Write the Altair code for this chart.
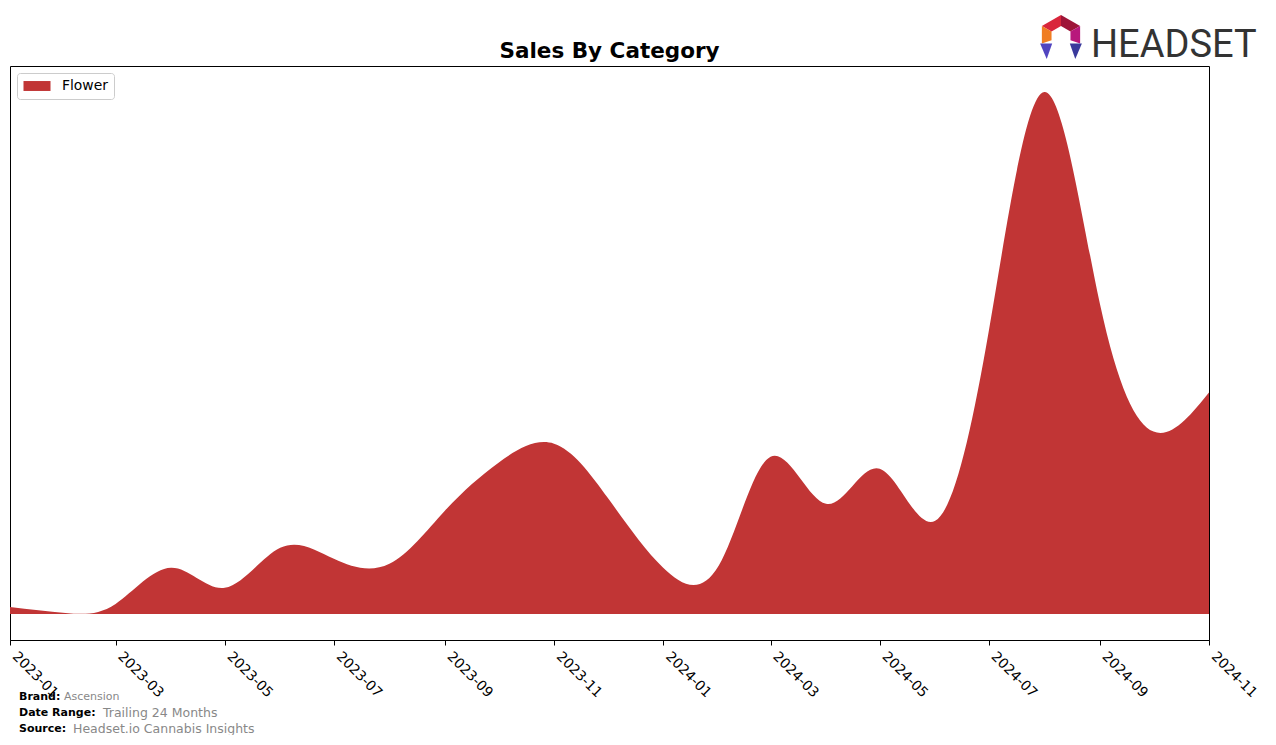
import altair as alt
import pandas as pd

months = [
    "2023-01-01", "2023-02-01", "2023-03-01", "2023-04-01", "2023-05-01", "2023-06-01",
    "2023-07-01", "2023-08-01", "2023-09-01", "2023-10-01", "2023-11-01", "2023-12-01",
    "2024-01-01", "2024-02-01", "2024-03-01", "2024-04-01", "2024-05-01", "2024-06-01",
    "2024-07-01", "2024-08-01", "2024-09-01", "2024-10-01", "2024-11-01",
]
sales = [7, 1, 10, 46, 26, 66, 55, 50, 103, 151, 170, 116,
         46, 48, 157, 110, 145, 93, 283, 521, 310, 182, 221]
category = "Flower"
tick_months = ["2023-01-01", "2023-03-01", "2023-05-01", "2023-07-01", "2023-09-01",
               "2023-11-01", "2024-01-01", "2024-03-01", "2024-05-01", "2024-07-01",
               "2024-09-01", "2024-11-01"]

df = pd.DataFrame({"month": months, "sales": sales, "category": [category] * len(months)})

W, H = 1199, 574
peak = max(sales)
ydom = [-0.05 * peak, 1.05 * peak]

tick_values = [alt.DateTime(year=int(m[:4]), month=int(m[5:7]), date=1, utc=True) for m in tick_months]

# wide, flat legend swatch drawn from a small symbol
legend_shape = "M-1.93,-0.71L1.93,-0.71L1.93,0.71L-1.93,0.71Z"

area = alt.Chart(df).mark_area(interpolate="natural").encode(
    x=alt.X("month:T",
            scale=alt.Scale(type="utc", domain=[alt.DateTime(year=2023, month=1, date=1, utc=True),
                                                alt.DateTime(year=2024, month=11, date=1, utc=True)],
                            nice=False),
            axis=alt.Axis(values=tick_values, labelExpr="utcFormat(datum.value, '%Y-%m')",
                          labelAngle=45, labelAlign="left", labelBaseline="top",
                          labelFontSize=13.9, labelColor="black", labelFont="DejaVu Sans",
                          labelOffset=9, labelPadding=4,
                          tickSize=5, tickColor="black", domainColor="black",
                          grid=False, title=None, labelOverlap=False, labelBound=False,
                          labelFlush=False)),
    y=alt.Y("sales:Q", scale=alt.Scale(domain=ydom, nice=False, zero=False),
            axis=None),
    color=alt.Color("category:N",
                    scale=alt.Scale(domain=[category], range=["#c13535"]),
                    legend=alt.Legend(title=None, orient="none", legendX=7, legendY=7,
                                      symbolType=legend_shape, symbolSize=196,
                                      symbolOffset=7,
                                      symbolStrokeWidth=0, labelFontSize=13.9,
                                      labelFont="DejaVu Sans", labelColor="black",
                                      labelOffset=18, padding=6,
                                      strokeColor="#cccccc", fillColor="white",
                                      cornerRadius=3)),
)

one = pd.DataFrame({"k": [0]})

def txt(s, x, y, size, color, weight="normal", font="DejaVu Sans", align="left"):
    return alt.Chart(one).mark_text(text=s, align=align, baseline="alphabetic",
                                    fontSize=size, color=color, fontWeight=weight,
                                    font=font).encode(x=alt.value(x), y=alt.value(y))

title = txt("Sales By Category", W / 2, -8, 21.5, "black", "bold", align="center")

footer = [
    txt("Brand:", 9, 634, 11, "black", "bold"),
    txt("Ascension", 54, 634, 11, "#888888"),
    txt("Date Range:", 9, 650, 11, "black", "bold"),
    txt("Trailing 24 Months", 93, 651, 12.5, "#888888"),
    txt("Source:", 9, 666, 11, "black", "bold"),
    txt("Headset.io Cannabis Insights", 63, 667, 12.5, "#888888"),
]

logo_text = txt("HEADSET", 1081, -9, 38, "#333333", "normal", font="Roboto")

segments = [
    ("M0,-1L-0.87,-0.5L-0.43,-0.25L0,-0.5Z", "#d9263b"),
    ("M0,-1L0.87,-0.5L0.43,-0.25L0,-0.5Z", "#9e1538"),
    ("M0.87,-0.5L0.87,0.3L0.43,0.15L0.43,-0.25Z", "#b8187c"),
    ("M-0.87,-0.5L-0.87,0.3L-0.43,0.15L-0.43,-0.25Z", "#f07d22"),
    ("M-0.95,0.3L-0.4,0.3L-0.65,1.0Z", "#5145c0"),
    ("M0.95,0.3L0.4,0.3L0.65,1.0Z", "#3a3a9c"),
]
logo_parts = [
    alt.Chart(one).mark_point(shape=p, filled=True, color=c, size=1936, opacity=1,
                              strokeWidth=0).encode(x=alt.value(1051), y=alt.value(-29))
    for p, c in segments
]

chart = alt.layer(area, title, *footer, logo_text, *logo_parts).properties(
    width=W, height=H,
    autosize=alt.AutoSizeParams(type="none"),
    padding={"left": 2, "top": 58, "right": 55, "bottom": 95},
    background="white",
).configure_view(stroke="black", strokeWidth=1)

chart.save("out.html", embed_options={"renderer": "svg", "actions": False})
